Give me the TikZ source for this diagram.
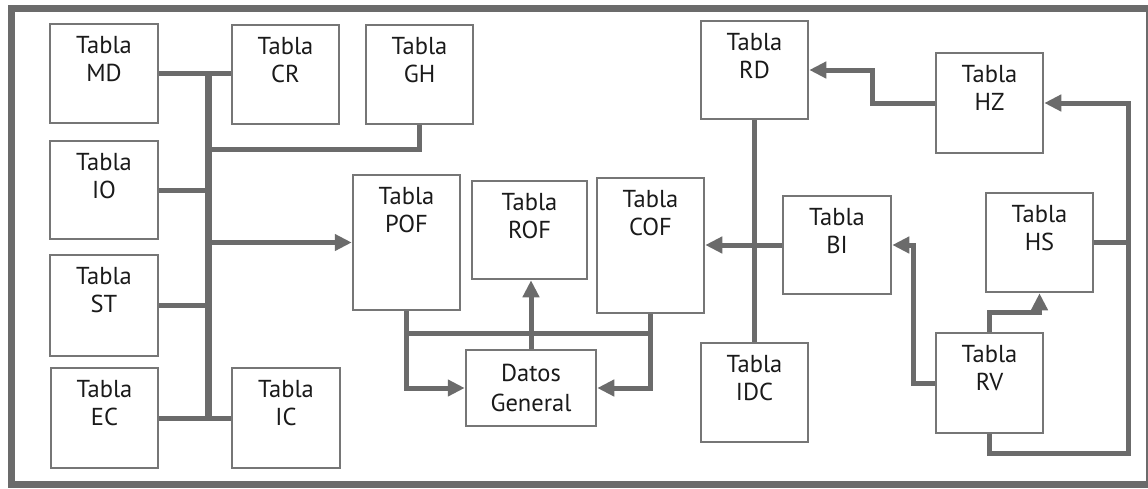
\documentclass[tikz,border=0pt]{standalone}
\usepackage{fontspec}
\setmainfont{PT Sans}
\usetikzlibrary{arrows.meta}
\definecolor{lc}{HTML}{6B6B6B}
\definecolor{bc}{HTML}{767676}
\definecolor{tc}{HTML}{1A1A1A}
\begin{document}
\begin{tikzpicture}[x=1pt,y=-1pt,
  box/.style={draw=bc,line width=2.5pt,fill=white,inner sep=0pt,minimum width=#1},
  conn/.style={draw=lc,line width=5pt,line join=miter},
  arr/.style={conn,-{Triangle[length=17pt,width=16pt]}},
  tl/.style={label={[anchor=north,inner sep=0pt,yshift=-13.5pt,align=center,text=tc,font=\fontsize{24.5}{28}\selectfont]north:{#1}}}
]
\useasboundingbox (0,0) rectangle (1148,488);
\draw[lc,line width=7pt] (11.5,8.5) rectangle (1149.5,484.5);

% boxes
\node[box=108pt,minimum height=99pt,tl={Tabla\\MD}] (MD) at (104,73.5) {};
\node[box=107pt,minimum height=99pt,tl={Tabla\\CR}] (CR) at (285.5,74.5) {};
\node[box=107pt,minimum height=99pt,tl={Tabla\\GH}] (GH) at (419.5,74.5) {};
\node[box=108pt,minimum height=98pt,tl={Tabla\\IO}] (IO) at (104,190) {};
\node[box=108pt,minimum height=101pt,tl={Tabla\\ST}] (ST) at (104,305.5) {};
\node[box=107pt,minimum height=100pt,tl={Tabla\\EC}] (EC) at (104.5,418) {};
\node[box=108pt,minimum height=100pt,tl={Tabla\\IC}] (IC) at (286,418) {};
\node[box=107pt,minimum height=135pt,tl={Tabla\\POF}] (POF) at (406.5,242.5) {};
\node[box=115pt,minimum height=98pt,tl={Tabla\\ROF}] (ROF) at (529.5,230) {};
\node[box=107pt,minimum height=135pt,tl={Tabla\\COF}] (COF) at (650.5,245.5) {};
\node[box=130pt,minimum height=76pt,align=center,text=tc,font=\fontsize{24.5}{30}\selectfont] (DG) at (531,388) {Datos\\General};
\node[box=107pt,minimum height=98pt,tl={Tabla\\RD}] (RD) at (754.5,70) {};
\node[box=107pt,minimum height=100pt,tl={Tabla\\HZ}] (HZ) at (989.5,103) {};
\node[box=108pt,minimum height=98pt,tl={Tabla\\BI}] (BI) at (837,245) {};
\node[box=107pt,minimum height=99pt,tl={Tabla\\HS}] (HS) at (1039.5,242.5) {};
\node[box=107pt,minimum height=99pt,tl={Tabla\\IDC}] (IDC) at (754.5,392.5) {};
\node[box=107pt,minimum height=100pt,tl={Tabla\\RV}] (RV) at (989.5,383) {};

% helper coordinates
\coordinate (tk) at (208.5,0);
\coordinate (g1) at (208.5,149);
\coordinate (bus) at (0,333);
\coordinate (hzb) at (872,103);
\coordinate (rt) at (1128,0);
\coordinate (rvb) at (989.5,453);
\coordinate (rvl) at (913,383);
\coordinate (rvt) at (989.5,312);

% left cluster
\draw[conn,line width=6.5pt] (MD.east -| tk) -- (EC.east -| tk);
\draw[conn] (MD.east) -- (MD.east -| CR.west);
\draw[conn] (GH.south) |- (g1);
\draw[conn] (IO.east) -- (IO.east -| tk);
\draw[arr] (tk |- POF.west) -- (POF.west);
\draw[conn] (ST.east) -- (ST.east -| tk);
\draw[conn] (EC.east) -- (IC.west);

% middle
\draw[arr] (POF.south) |- (DG.west);
\draw[arr] (COF.south) |- (DG.east);
\draw[conn] (POF.south |- bus) -- (COF.south |- bus);
\draw[arr] (DG.north) -- (DG.north |- ROF.south);

% right
\draw[conn] (RD.south) -- (IDC.north);
\draw[arr] (BI.west) -- (BI.west -| COF.east);
\draw[arr] (HZ.west) -- (hzb) |- (RD.east);
\draw[arr] (HS.east) -- (HS.east -| rt) |- (HZ.east);
\draw[conn] (RV.south) -- (rvb) -| (HS.east -| rt);
\draw[arr] (RV.west) -- (rvl) |- (BI.east);
\draw[arr] (RV.north) -- (rvt) -| (HS.south);
\end{tikzpicture}
\end{document}
